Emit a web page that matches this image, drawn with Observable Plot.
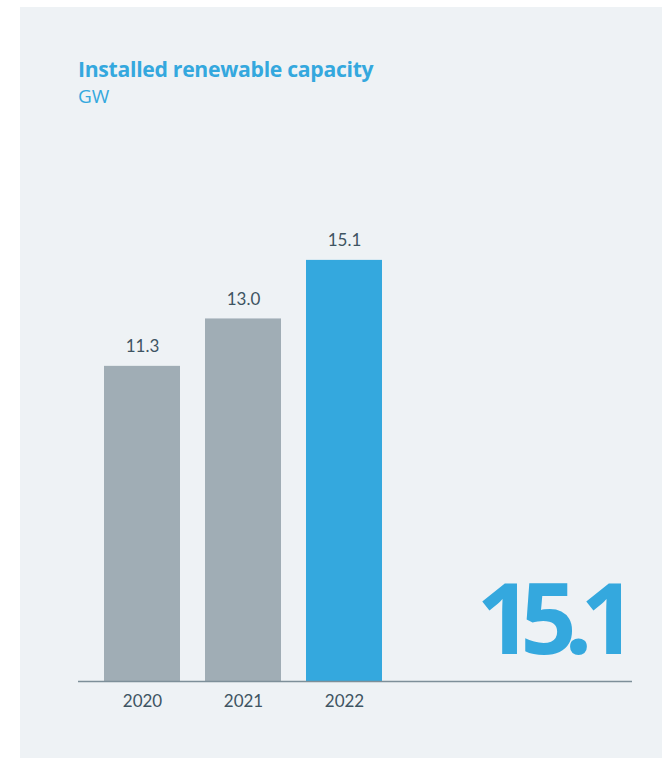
<!DOCTYPE html>
<html>
<head>
<meta charset="utf-8">
<script src="https://cdn.jsdelivr.net/npm/d3@7"></script>
<script src="https://cdn.jsdelivr.net/npm/@observablehq/plot@0.6"></script>
<style>
  html, body { margin: 0; padding: 0; background: #ffffff; width: 662px; height: 758px; overflow: hidden; }
  #panel { position: absolute; left: 20px; top: 7px; width: 642px; height: 751px; background: #eef2f5; }
  #title { position: absolute; left: 78px; top: 57px; font-family: "Open Sans", sans-serif; font-weight: 700; font-size: 21.2px; color: #34a8de; line-height: 24px; letter-spacing: -0.3px; }
  #subtitle { position: absolute; left: 78px; top: 84px; font-family: "Open Sans", sans-serif; font-weight: 400; font-size: 19px; color: #34a8de; line-height: 24px; }
  #chart { position: absolute; left: 0; top: 130px; }
  #chart g[font-size="98"] text { letter-spacing: -12px; }
</style>
</head>
<body>
<div id="panel"></div>
<div id="title">Installed renewable capacity</div>
<div id="subtitle">GW</div>
<div id="chart"></div>
<script>
const years = ["2020", "2021", "2022"];
const values = [11.3, 13.0, 15.1];
const labels = ["11.3", "13.0", "15.1"];
const highlight = "2022";
const headline = "15.1";

const data = years.map((y, i) => ({year: y, value: values[i], label: labels[i]}));

const chart = Plot.plot({
  width: 662,
  height: 600,
  marginTop: 49,
  marginBottom: 49,
  marginLeft: 78,
  marginRight: 30,
  style: {background: "transparent", fontFamily: "Lato, sans-serif", color: "#3e5462"},
  x: {domain: years, range: [78.75, 407], padding: 0.25, label: null},
  y: {domain: [0, 18], axis: null},
  marks: [
    Plot.barY(data, {x: "year", y: "value", fill: d => d.year === highlight ? "#34a8de" : "#a0adb5"}),
    Plot.text(data, {x: "year", y: "value", text: "label", lineAnchor: "bottom", dy: -14, fontSize: 17, fill: "#3e5462"}),
    Plot.ruleY([0], {stroke: "#7d8f99", strokeWidth: 1.5}),
    Plot.axisX({tickSize: 0, tickPadding: 13, fontSize: 17, fill: "#3e5462", label: null}),
    Plot.text([headline], {text: d => d, frameAnchor: "bottom-right", lineAnchor: "bottom", dy: -28, dx: -8, fontSize: 98, fontWeight: 700, fontFamily: "'Open Sans', sans-serif", fill: "#34a8de", textAnchor: "end"})
  ]
});
document.getElementById("chart").appendChild(chart);
</script>
</body>
</html>
